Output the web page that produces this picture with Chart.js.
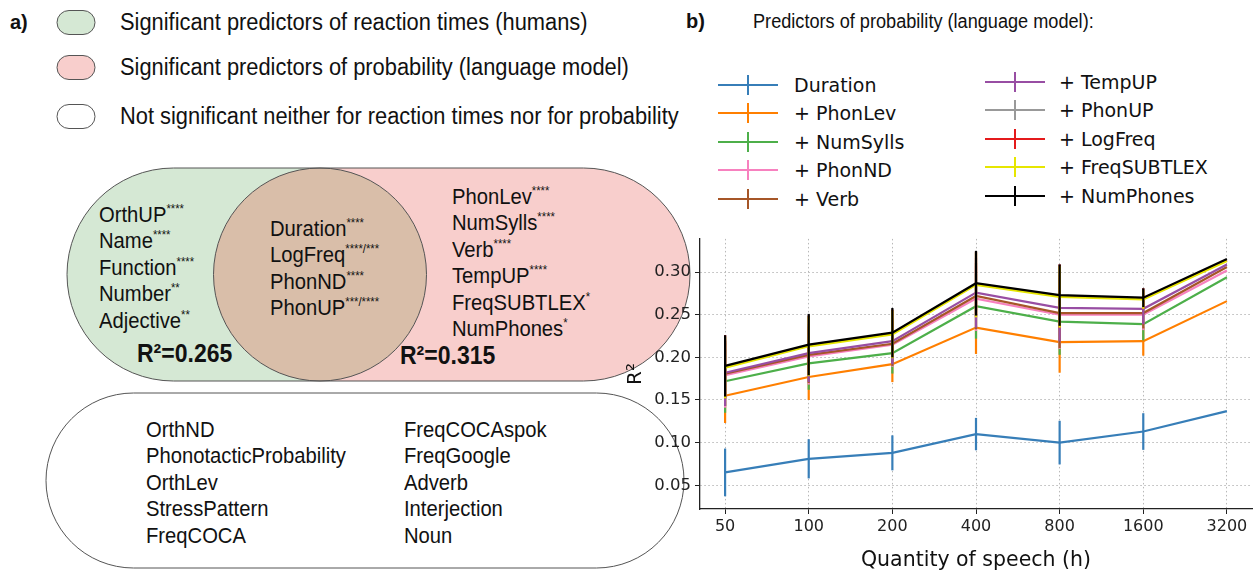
<!DOCTYPE html>
<html>
<head>
<meta charset="utf-8">
<script src="https://cdn.jsdelivr.net/npm/chart.js@4.4.1/dist/chart.umd.min.js"></script>
<style>
  body { margin: 0; background: #fff; }
  #page { position: relative; width: 1255px; height: 575px; overflow: hidden; background: #fff; }
  .t { position: absolute; font-family: "Liberation Sans", Arial, sans-serif; color: #111; white-space: nowrap; transform-origin: 0 0; }
  .venn { font-size: 21.5px; line-height: 26.5px; transform: scaleX(0.94); }
  .venn .star { font-size: 12px; position: relative; top: -9px; line-height: 0; }
  .lega { font-size: 23px; line-height: 26px; transform: scaleX(0.95); }
  .leg { position: absolute; font-family: "DejaVu Sans", sans-serif; font-size: 19px; color: #111; white-space: nowrap; line-height: 22px; }
  .handle { position: absolute; width: 60px; height: 2px; }
  .handle i { position: absolute; left: 29px; top: -9px; width: 2px; height: 20px; background: inherit; }
</style>
</head>
<body>
<div id="page">
  <svg width="1255" height="575" style="position:absolute;left:0;top:0">
    <!-- legend pills -->
    <rect x="57" y="10.5" width="38" height="24" rx="12" fill="#d5e8d4" stroke="#555" stroke-width="1"/>
    <rect x="57" y="55.5" width="38" height="24" rx="12" fill="#f8cecc" stroke="#555" stroke-width="1"/>
    <rect x="57" y="104.5" width="38" height="24" rx="12" fill="#ffffff" stroke="#555" stroke-width="1"/>
    <!-- venn -->
    <rect x="67" y="168" width="359.5" height="213" rx="106.5" fill="#d5e8d4"/>
    <rect x="213.5" y="168" width="476.5" height="213" rx="106.5" fill="#f8cecc"/>
    <circle cx="320" cy="274.5" r="106.5" fill="#d9bea9"/>
    <rect x="67" y="168" width="359.5" height="213" rx="106.5" fill="none" stroke="#555" stroke-width="1"/>
    <rect x="213.5" y="168" width="476.5" height="213" rx="106.5" fill="none" stroke="#555" stroke-width="1"/>
    <!-- not significant box -->
    <rect x="46" y="393" width="638" height="175" rx="87.5" fill="#ffffff" stroke="#555" stroke-width="1"/>
  </svg>

  <div class="t" style="left:10px;top:10px;font-size:20px;font-weight:bold;line-height:24px">a)</div>
  <div class="t lega" style="left:120px;top:9px">Significant predictors of reaction times (humans)</div>
  <div class="t lega" style="left:120px;top:54px">Significant predictors of probability (language model)</div>
  <div class="t lega" style="left:120px;top:103px">Not significant neither for reaction times nor for probability</div>

  <div id="humans" class="t venn" style="left:99px;top:201.75px"></div>
  <div id="both" class="t venn" style="left:270px;top:215.75px"></div>
  <div id="model" class="t venn" style="left:452px;top:183.75px"></div>
  <div class="t" style="left:137px;top:340px;font-size:25px;font-weight:bold;line-height:26px;transform:scaleX(0.92)">R²=0.265</div>
  <div class="t" style="left:400px;top:342px;font-size:25px;font-weight:bold;line-height:26px;transform:scaleX(0.92)">R²=0.315</div>
  <div id="none1" class="t venn" style="left:146px;top:416.75px"></div>
  <div id="none2" class="t venn" style="left:404px;top:416.75px"></div>

  <div class="t" style="left:686px;top:9px;font-size:20px;font-weight:bold;line-height:24px">b)</div>
  <div class="t" style="left:753px;top:9px;font-size:19.5px;line-height:24px;transform:scaleX(0.93)">Predictors of probability (language model):</div>

  <div id="legend"></div>

  <canvas id="myChart" width="665" height="350" style="position:absolute;left:590px;top:225px;width:665px;height:350px"></canvas>
</div>

<script>
// Panel a: predictor groups (name, significance stars)
const humansOnly = [["OrthUP", "****"], ["Name", "****"], ["Function", "****"], ["Number", "**"], ["Adjective", "**"]];
const bothGroups = [["Duration", "****"], ["LogFreq", "****/***"], ["PhonND", "****"], ["PhonUP", "***/****"]];
const modelOnly = [["PhonLev", "****"], ["NumSylls", "****"], ["Verb", "****"], ["TempUP", "****"], ["FreqSUBTLEX", "*"], ["NumPhones", "*"]];
const notSignificantA = ["OrthND", "PhonotacticProbability", "OrthLev", "StressPattern", "FreqCOCA"];
const notSignificantB = ["FreqCOCAspok", "FreqGoogle", "Adverb", "Interjection", "Noun"];

// Panel b: R² per quantity of speech
const quantities = ["50", "100", "200", "400", "800", "1600", "3200"];
const yTicks = [0.05, 0.10, 0.15, 0.20, 0.25, 0.30];

const seriesNames = ["Duration", "+ PhonLev", "+ NumSylls", "+ PhonND", "+ Verb",
                     "+ TempUP", "+ PhonUP", "+ LogFreq", "+ FreqSUBTLEX", "+ NumPhones"];

const durationR2    = [0.065, 0.081, 0.088, 0.110, 0.100, 0.113, 0.137];
const phonLevR2     = [0.155, 0.177, 0.192, 0.235, 0.218, 0.219, 0.266];
const numSyllsR2    = [0.172, 0.193, 0.205, 0.260, 0.242, 0.239, 0.294];
const phonNDR2      = [0.179, 0.201, 0.215, 0.269, 0.250, 0.250, 0.302];
const verbR2        = [0.181, 0.203, 0.216, 0.272, 0.252, 0.252, 0.306];
const tempUPR2      = [0.182, 0.205, 0.219, 0.276, 0.258, 0.257, 0.309];
const phonUPR2      = [0.189, 0.214, 0.228, 0.286, 0.272, 0.269, 0.314];
const logFreqR2     = [0.189, 0.214, 0.228, 0.286, 0.272, 0.269, 0.314];
const freqSubtlexR2 = [0.188, 0.213, 0.227, 0.285, 0.271, 0.268, 0.313];
const numPhonesR2   = [0.190, 0.215, 0.229, 0.287, 0.273, 0.270, 0.3155];

// error bar half-lengths
const durationErr    = [0.028, 0.023, 0.0205, 0.019, 0.0256, 0.0215, 0];
const phonLevErr     = [0.032, 0.027, 0.021, 0.031, 0.036, 0.017, 0];
const numSyllsErr    = [0.037, 0.031, 0.024, 0.038, 0.039, 0.019, 0];
const phonNDErr      = [0.038, 0.033, 0.026, 0.038, 0.040, 0.018, 0];
const verbErr        = [0.038, 0.033, 0.026, 0.039, 0.041, 0.018, 0];
const tempUPErr      = [0.039, 0.034, 0.027, 0.041, 0.039, 0.018, 0];
const phonUPErr      = [0.037, 0.035, 0.028, 0.038, 0.037, 0.012, 0];
const logFreqErr     = [0.037, 0.035, 0.028, 0.038, 0.037, 0.012, 0];
const freqSubtlexErr = [0.036, 0.035, 0.028, 0.038, 0.036, 0.011, 0];
const numPhonesErr   = [0.036, 0.036, 0.029, 0.038, 0.036, 0.011, 0];

const seriesValues = [durationR2, phonLevR2, numSyllsR2, phonNDR2, verbR2,
                      tempUPR2, phonUPR2, logFreqR2, freqSubtlexR2, numPhonesR2];
const seriesErrors = [durationErr, phonLevErr, numSyllsErr, phonNDErr, verbErr,
                      tempUPErr, phonUPErr, logFreqErr, freqSubtlexErr, numPhonesErr];

const colors = ["#377eb8", "#ff7f00", "#4daf4a", "#f781bf", "#a65628",
                "#984ea3", "#999999", "#e41a1c", "#e6e600", "#000000"];

// Venn texts

function fill_group(id, items) {
  document.getElementById(id).innerHTML = items
    .map(it => `<div>${it[0]}<span class="star">${it[1]}</span></div>`).join("");
};

fill_group("humans", humansOnly);
fill_group("both", bothGroups);
fill_group("model", modelOnly);
document.getElementById("none1").innerHTML = notSignificantA.map(s => `<div>${s}</div>`).join("");
document.getElementById("none2").innerHTML = notSignificantB.map(s => `<div>${s}</div>`).join("");

// Legend (two columns of five)

const legend = document.getElementById("legend");
const legendCols = [{handle: 718, text: 794, rows: [85, 113, 142, 170, 199]},
                    {handle: 985, text: 1059, rows: [82, 110, 139, 167, 196]}];
seriesNames.forEach((name, i) => {
  const col = legendCols[Math.floor(i / 5)];
  const y = col.rows[i % 5];
  const h = document.createElement("div");
  h.className = "handle";
  h.style.left = col.handle + "px";
  h.style.top = (y - 1) + "px";
  h.style.background = colors[i];
  h.innerHTML = "<i></i>";
  legend.appendChild(h);
  const t = document.createElement("div");
  t.className = "leg";
  t.style.left = col.text + "px";
  t.style.top = (y - 11) + "px";
  t.textContent = name;
  legend.appendChild(t);
});

// Error bars, drawn right after each line so the stacking follows the legend order

const errorBars = {
  id: "errorBars",
  afterDatasetDraw(chart, args) {
    const errs = seriesErrors[args.index];
    const ctx = chart.ctx;
    const xs = chart.scales.x, ys = chart.scales.y;
    const area = chart.chartArea;
    ctx.save();
    ctx.beginPath();
    ctx.rect(area.left, area.top, area.right - area.left, area.bottom - area.top);
    ctx.clip();
    ctx.strokeStyle = colors[args.index];
    ctx.lineWidth = 2.2;
    chart.data.datasets[args.index].data.forEach((p, i) => {
      if (!errs[i]) return;
      const x = xs.getPixelForValue(p.x);
      ctx.beginPath();
      ctx.moveTo(x, ys.getPixelForValue(p.y - errs[i]));
      ctx.lineTo(x, ys.getPixelForValue(p.y + errs[i]));
      ctx.stroke();
    });
    ctx.restore();
  }
};

Chart.defaults.font.family = "'DejaVu Sans', sans-serif";
Chart.defaults.color = "#222";

const ctx = document.getElementById("myChart").getContext("2d");

const myChart = new Chart(ctx, {
  type: "line",
  data: {
    datasets: seriesNames.map((name, i) => ({
      label: name,
      data: seriesValues[i].map((v, j) => ({x: j, y: v})),
      borderColor: colors[i],
      backgroundColor: colors[i],
      borderWidth: 2.2,
      pointRadius: 0,
      tension: 0,
      order: seriesNames.length - i,
    }))
  },
  options: {
    responsive: false,
    animation: false,
    layout: { padding: { top: 11.5, right: 3, left: 0, bottom: 0 } },
    plugins: { legend: { display: false }, tooltip: { enabled: false } },
    scales: {
      x: {
        type: "linear",
        min: -0.3,
        max: 6.3,
        afterBuildTicks: (s) => { s.ticks = quantities.map((q, i) => ({value: i})); },
        afterFit: (s) => { s.height = 66; },
        ticks: { callback: (v) => quantities[v], font: { size: 16 }, padding: 3, maxRotation: 0, autoSkip: false },
        grid: { color: "#b8b8b8", lineWidth: 1, tickColor: "#222", tickLength: 5, tickBorderDash: [] },
        border: { display: true, color: "#222", width: 1.3, dash: [1.5, 2.5] },
        title: { display: true, text: "Quantity of speech (h)", font: { size: 20.5 }, color: "#111", padding: { top: 0, bottom: 2 } }
      },
      y: {
        min: 0.0221,
        max: 0.339,
        afterBuildTicks: (s) => { s.ticks = yTicks.map(v => ({value: v})); },
        afterFit: (s) => { s.width = 110; },
        ticks: { callback: (v) => v.toFixed(2), font: { size: 16.5 }, padding: 4 },
        grid: { color: "#b8b8b8", lineWidth: 1, tickColor: "#222", tickLength: 5, tickBorderDash: [] },
        border: { display: true, color: "#222", width: 1.3, dash: [1.5, 2.5] },
        title: { display: true, text: "R²", font: { size: 20 }, color: "#111", padding: { top: 34, bottom: 0 } }
      }
    }
  },
  plugins: [errorBars]
});
</script>
</body>
</html>
